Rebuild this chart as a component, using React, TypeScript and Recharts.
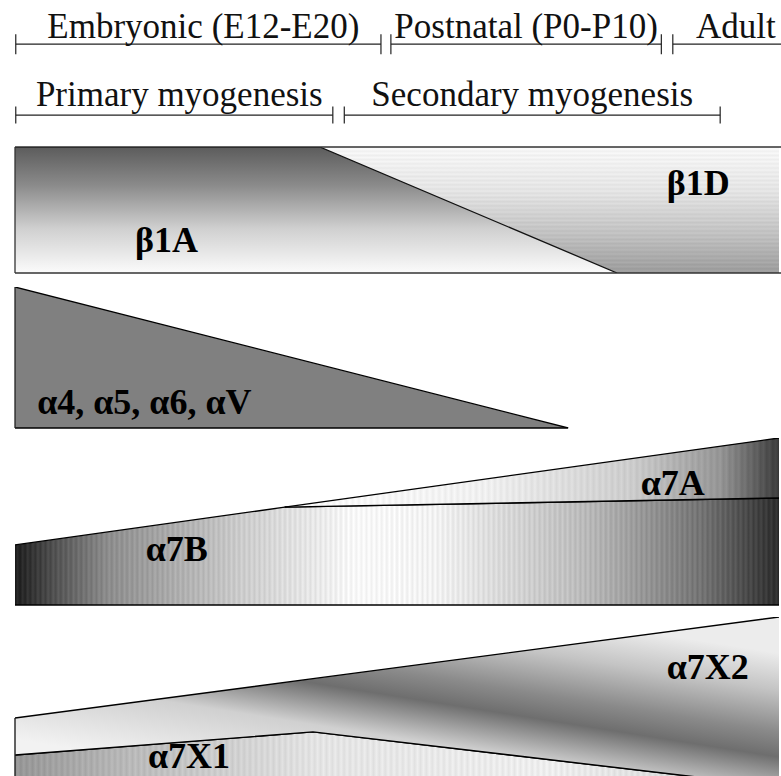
import React from "react"
import {
  ComposedChart,
  Area,
  XAxis,
  YAxis,
  ReferenceLine,
  ReferenceDot,
} from "recharts"

// developmental time axis: 0 = left edge (E12), 100 = right edge of the figure
const stageNames = ["Embryonic (E12-E20)", "Postnatal (P0-P10)", "Adult"]
const stageStart = [0.1, 49.2, 86.1]
const stageEnd = [47.9, 84.6, 102.6]

const phaseNames = ["Primary myogenesis", "Secondary myogenesis"]
const phaseStart = [0.1, 43.1]
const phaseEnd = [41.6, 92.3]

// β1 splice variants (relative share, 0..1)
const b1Time = [0, 39.9, 78.8, 100]
const b1A = [1, 1, 0, null]
const b1DLow = [null, 1, 0, 0]
const b1DHigh = [null, 1, 1, 1]

// α4, α5, α6, αV
const alphaTime = [0, 72.4]
const alphaLevel = [1, 0]

// α7B / α7A
const a7Time = [0, 35.3, 100]
const a7B = [0.36, 0.586, 0.641]
const a7ATop = [null, 0.586, 1]

// α7X1 / α7X2
const a7XTime = [0, 39, 100]
const a7X1 = [0.246, 0.372, 0.073]
const a7X2Top = [0.448, 0.663, 1]

const panelLabels = ["β1A", "β1D", "α4, α5, α6, αV", "α7A", "α7B", "α7X2", "α7X1"]

const W = 781
const PAD = 4
const SERIF = "'Liberation Serif', 'Times New Roman', serif"

const b1Data = b1Time.map((t, i) => ({
  t,
  a: b1A[i],
  d: b1DLow[i] == null ? null : [b1DLow[i], b1DHigh[i]],
}))
const alphaData = alphaTime.map((t, i) => ({ t, v: alphaLevel[i] }))
const a7Data = a7Time.map((t, i) => ({
  t,
  b: a7B[i],
  a: a7ATop[i] == null ? null : [a7B[i], a7ATop[i]],
}))
const a7XData = a7XTime.map((t, i) => ({
  t,
  x1: a7X1[i],
  x2: [a7X1[i], a7X2Top[i]],
}))

const labelStyle = {
  fill: "#000",
  fontSize: 36,
  fontWeight: "bold",
  fontFamily: SERIF,
}

// gradient stops with a fine banding, like the striped fills of the original figure
function bandedStops(stops: [number, number][], steps: number, amp: number) {
  const out = []
  for (let i = 0; i <= steps; i++) {
    const o = i / steps
    let k = 0
    while (k < stops.length - 2 && o > stops[k + 1][0]) k++
    const [o0, g0] = stops[k]
    const [o1, g1] = stops[k + 1]
    const g = g0 + (g1 - g0) * (o1 === o0 ? 0 : (o - o0) / (o1 - o0))
    const gg = Math.max(0, Math.min(255, Math.round(g + (i % 2 ? amp : -amp))))
    out.push(<stop key={i} offset={o} stopColor={`rgb(${gg},${gg},${gg})`} />)
  }
  return out
}

function Panel({ top, height, data, children }: any) {
  return (
    <div style={{ position: "absolute", left: 0, top: top - PAD, width: W, height: height + PAD * 2 }}>
      <ComposedChart
        width={W}
        height={height + PAD * 2}
        data={data}
        margin={{ top: PAD, right: 2, bottom: PAD, left: 15 }}
      >
        <XAxis type="number" dataKey="t" domain={[0, 100]} hide allowDataOverflow />
        <YAxis type="number" domain={[0, 1]} hide allowDataOverflow />
        {children}
      </ComposedChart>
    </div>
  )
}

function PanelLabel({ t, v, text }: { t: number; v: number; text: string }) {
  return (
    <ReferenceDot
      x={t}
      y={v}
      r={0}
      fill="none"
      stroke="none"
      ifOverflow="visible"
      label={{ value: text, position: "right", offset: 0, ...labelStyle }}
    />
  )
}

function Bracket({ start, end, y, tick, text, gap, dx }: any) {
  const line = { stroke: "#222", strokeWidth: 1.2, ifOverflow: "visible" as const }
  return [
    <ReferenceLine
      key={text + "h"}
      segment={[{ x: start, y }, { x: end, y }]}
      {...line}
      label={{
        value: text,
        position: "top",
        offset: gap,
        dx,
        fill: "#111",
        fontSize: 35,
        fontFamily: SERIF,
      }}
    />,
    <ReferenceLine key={text + "l"} segment={[{ x: start, y: y - tick }, { x: start, y: y + tick }]} {...line} />,
    <ReferenceLine key={text + "r"} segment={[{ x: end, y: y - tick }, { x: end, y: y + tick }]} {...line} />,
  ]
}

export default function App() {
  return (
    <div
      style={{
        position: "absolute",
        left: 0,
        top: 0,
        width: W,
        height: 776,
        overflow: "hidden",
        background: "#fff",
      }}
    >
      <svg width={0} height={0} style={{ position: "absolute" }}>
        <defs>
          <linearGradient id="g-b1a" x1="0" y1="0" x2="0" y2="1">
            <stop offset="0" stopColor="#5c5c5c" />
            <stop offset="0.3" stopColor="#8a8a8a" />
            <stop offset="0.65" stopColor="#d0d0d0" />
            <stop offset="1" stopColor="#fbfbfb" />
          </linearGradient>
          <linearGradient id="g-b1d" x1="0" y1="0" x2="0" y2="1">
            {bandedStops([[0, 247], [0.35, 228], [0.7, 192], [1, 156]], 60, 5)}
          </linearGradient>
          <linearGradient id="g-a7b" x1="0" y1="0" x2="1" y2="0">
            {bandedStops(
              [[0, 30], [0.05, 80], [0.12, 140], [0.3, 205], [0.45, 250], [0.55, 242], [0.75, 185], [0.9, 115], [1, 45]],
              300,
              9
            )}
          </linearGradient>
          <linearGradient id="g-a7a" x1="0" y1="0" x2="1" y2="0">
            {bandedStops([[0, 253], [0.4, 240], [0.7, 205], [0.88, 150], [1, 60]], 160, 6)}
          </linearGradient>
          <linearGradient id="g-a7x1" x1="0" y1="0" x2="1" y2="0">
            {bandedStops([[0, 150], [0.15, 185], [0.4, 228], [0.7, 238], [1, 205]], 260, 7)}
          </linearGradient>
          <linearGradient id="g-a7x2" x1="0.36" y1="0.98" x2="0.94" y2="0.17">
            <stop offset="0" stopColor="#f2f2f2" />
            <stop offset="0.3" stopColor="#d0d0d0" />
            <stop offset="0.5" stopColor="#6e6e6e" />
            <stop offset="0.62" stopColor="#8a8a8a" />
            <stop offset="0.82" stopColor="#c4c4c4" />
            <stop offset="1" stopColor="#ececec" />
          </linearGradient>
        </defs>
      </svg>

      {/* stage / phase brackets */}
      <div style={{ position: "absolute", left: 0, top: 0, width: W, height: 130 }}>
        <ComposedChart width={W} height={130} data={[{ t: 0 }, { t: 100 }]} margin={{ top: 0, right: 2, bottom: 0, left: 15 }}>
          <XAxis type="number" dataKey="t" domain={[0, 100]} hide allowDataOverflow />
          <YAxis type="number" domain={[0, 1]} hide allowDataOverflow />
          {stageNames.map((name, i) =>
            Bracket({ start: stageStart[i], end: stageEnd[i], y: 0.66, tick: 0.077, text: name, gap: 6, dx: i === 0 ? 5 : 0 })
          )}
          {phaseNames.map((name, i) =>
            Bracket({ start: phaseStart[i], end: phaseEnd[i], y: 0.115, tick: 0.065, text: name, gap: 9, dx: i === 0 ? 5 : 0 })
          )}
        </ComposedChart>
      </div>

      {/* β1A / β1D */}
      <Panel top={147} height={126} data={b1Data}>
        <Area
          type="linear"
          dataKey="d"
          fill="url(#g-b1d)"
          fillOpacity={1}
          stroke="none"
          isAnimationActive={false}
        />
        <Area
          type="linear"
          dataKey="a"
          fill="url(#g-b1a)"
          fillOpacity={1}
          stroke="#111"
          strokeWidth={1.3}
          isAnimationActive={false}
        />
        <ReferenceLine segment={[{ x: 0, y: 1 }, { x: 101, y: 1 }]} stroke="#333" strokeWidth={1.3} ifOverflow="visible" />
        <ReferenceLine segment={[{ x: 0, y: 0 }, { x: 101, y: 0 }]} stroke="#333" strokeWidth={1.3} ifOverflow="visible" />
        <ReferenceLine segment={[{ x: 0, y: 0 }, { x: 0, y: 1 }]} stroke="#333" strokeWidth={1.3} ifOverflow="visible" />
        {PanelLabel({ t: 15.7, v: 0.266, text: panelLabels[0] })}
        {PanelLabel({ t: 85.3, v: 0.72, text: panelLabels[1] })}
      </Panel>

      {/* α4, α5, α6, αV */}
      <Panel top={287} height={141} data={alphaData}>
        <Area
          type="linear"
          dataKey="v"
          fill="#808080"
          fillOpacity={1}
          stroke="#000"
          strokeWidth={1.3}
          isAnimationActive={false}
        />
        <ReferenceLine segment={[{ x: 0, y: 0 }, { x: 72.4, y: 0 }]} stroke="#000" strokeWidth={1.3} ifOverflow="visible" />
        <ReferenceLine segment={[{ x: 0, y: 0 }, { x: 0, y: 1 }]} stroke="#222" strokeWidth={1.3} ifOverflow="visible" />
        {PanelLabel({ t: 2.9, v: 0.19, text: panelLabels[2] })}
      </Panel>

      {/* α7B / α7A */}
      <Panel top={438} height={167} data={a7Data}>
        <Area
          type="linear"
          dataKey="b"
          fill="url(#g-a7b)"
          fillOpacity={1}
          stroke="#000"
          strokeWidth={1.4}
          isAnimationActive={false}
        />
        <Area
          type="linear"
          dataKey="a"
          fill="url(#g-a7a)"
          fillOpacity={1}
          stroke="#000"
          strokeWidth={1.4}
          isAnimationActive={false}
        />
        <ReferenceLine segment={[{ x: 0, y: 0 }, { x: 100, y: 0 }]} stroke="#000" strokeWidth={1.4} ifOverflow="visible" />
        {PanelLabel({ t: 81.9, v: 0.737, text: panelLabels[3] })}
        {PanelLabel({ t: 17.1, v: 0.341, text: panelLabels[4] })}
      </Panel>

      {/* α7X1 / α7X2 */}
      <Panel top={617} height={183} data={a7XData}>
        <Area
          type="linear"
          dataKey="x1"
          fill="url(#g-a7x1)"
          fillOpacity={1}
          stroke="#000"
          strokeWidth={1.4}
          isAnimationActive={false}
        />
        <Area
          type="linear"
          dataKey="x2"
          fill="url(#g-a7x2)"
          fillOpacity={1}
          stroke="#000"
          strokeWidth={1.4}
          isAnimationActive={false}
        />
        <ReferenceLine segment={[{ x: 0, y: 0 }, { x: 0, y: 0.448 }]} stroke="#222" strokeWidth={1.4} ifOverflow="visible" />
        {PanelLabel({ t: 85.3, v: 0.732, text: panelLabels[5] })}
        {PanelLabel({ t: 17.4, v: 0.245, text: panelLabels[6] })}
      </Panel>
    </div>
  )
}
